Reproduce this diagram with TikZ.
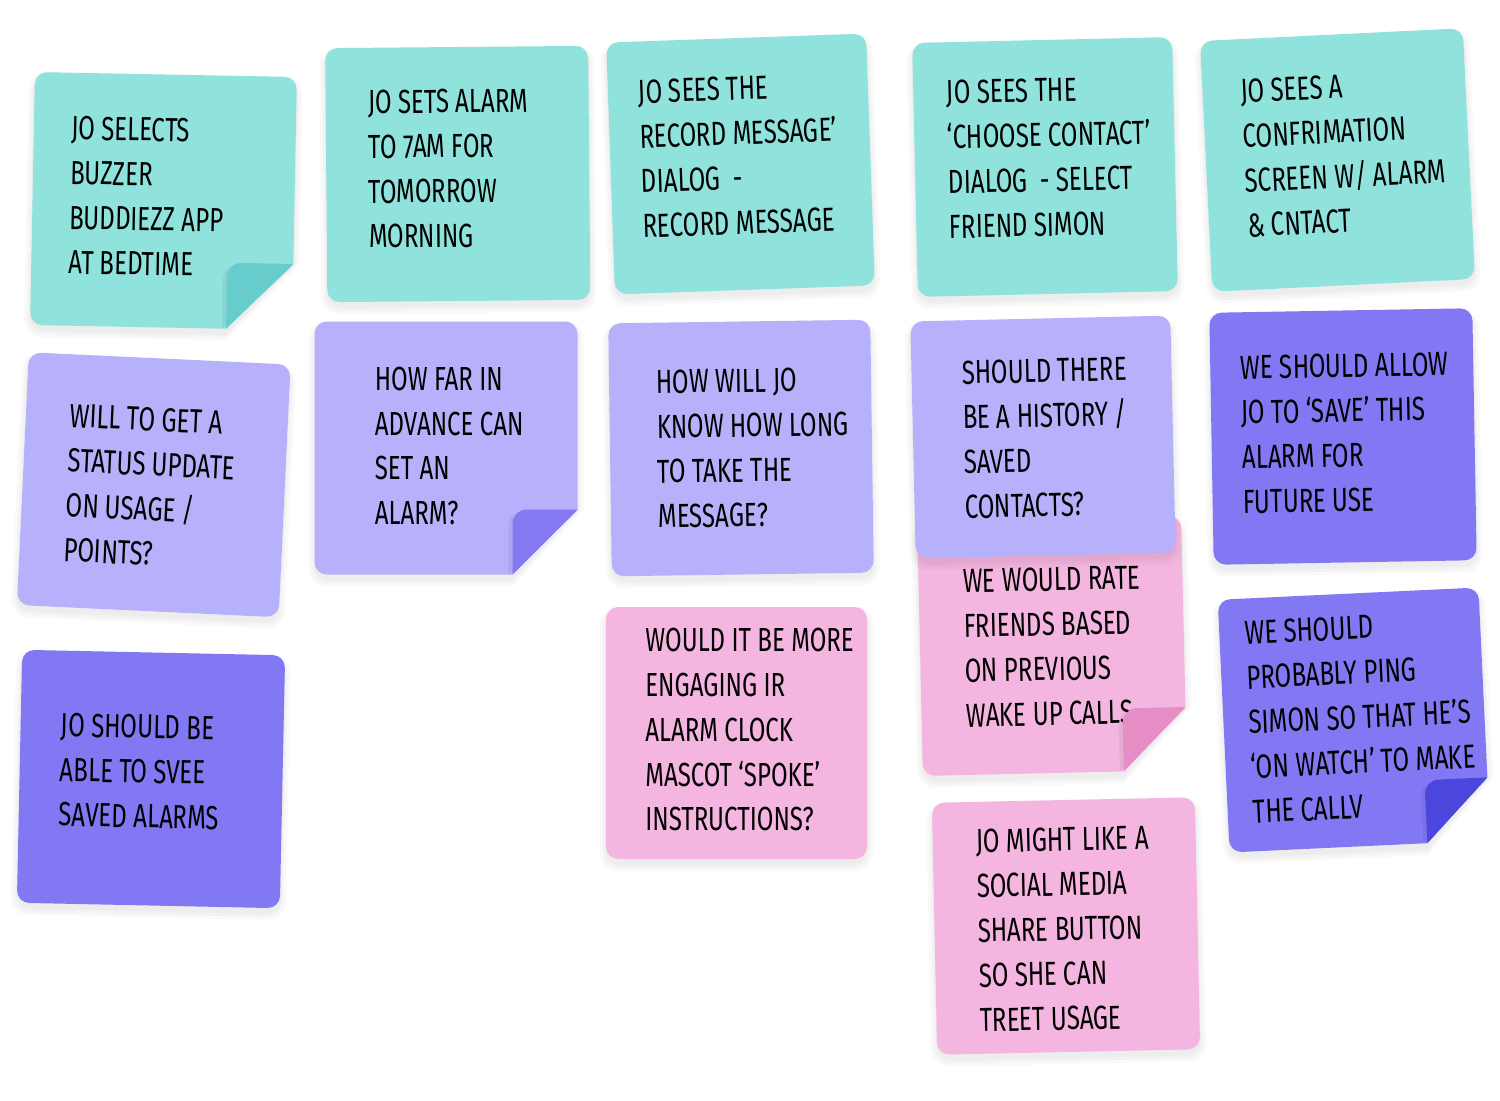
\documentclass[tikz,border=0pt]{standalone}
\usepackage{fontspec}
\setmainfont{Fira Sans}[FakeStretch=0.72]
\definecolor{tealnote}{HTML}{90E3DD}
\definecolor{tealfold}{HTML}{66CCCC}
\definecolor{lilacnote}{HTML}{B6B1FA}
\definecolor{lilacfold}{HTML}{8479F2}
\definecolor{violetnote}{HTML}{8378F3}
\definecolor{violetfold}{HTML}{4B47DD}
\definecolor{pinknote}{HTML}{F4B6E0}
\definecolor{pinkfold}{HTML}{E58DC4}
\tikzset{
  notetext/.style={font=\fontsize{19}{25.5}\selectfont, align=left, inner sep=0pt, anchor=north west, text=black},
  noteshadow/.style={fill=black, opacity=0.025},
}
% #1 name, #2 centre, #3 angle, #4 width, #5 height, #6 colour, #7 fold size (0 = none), #8 text offset, #9 text
\newcommand\stickynote[9]{%
  \begin{scope}[shift={#2},rotate=#3]
    \pgfmathsetmacro\hw{#4/2}%
    \pgfmathsetmacro\hh{#5/2}%
    \pgfmathsetmacro\fx{#4/2-#7}%
    \pgfmathsetmacro\fy{#5/2-#7}%
    \ifnum#7=0
      \fill[noteshadow, rounded corners=10pt] (-\hw-6,-\hh) rectangle (\hw+6,\hh+12);
      \fill[noteshadow, rounded corners=9pt] (-\hw-3,-\hh+2) rectangle (\hw+3,\hh+9);
      \fill[noteshadow, rounded corners=8pt] (-\hw-1,-\hh+3) rectangle (\hw+1,\hh+6);
      \fill[#6note, rounded corners=7pt] (-\hw,-\hh) rectangle (\hw,\hh);
      \node[notetext, rotate=#3] (#1) at ([shift={(#8)}]-\hw,-\hh) {#9};
    \else
      \fill[noteshadow, rounded corners=10pt] (\hw+6,\fy) -- (\hw+6,-\hh) -- (-\hw-6,-\hh) -- (-\hw-6,\hh+12) -- (\fx,\hh+12);
      \fill[noteshadow, rounded corners=9pt] (\hw+3,\fy) -- (\hw+3,-\hh+2) -- (-\hw-3,-\hh+2) -- (-\hw-3,\hh+9) -- (\fx,\hh+9);
      \fill[noteshadow, rounded corners=8pt] (\hw+1,\fy) -- (\hw+1,-\hh+3) -- (-\hw-1,-\hh+3) -- (-\hw-1,\hh+6) -- (\fx,\hh+6);
      \fill[#6note, rounded corners=7pt] (\hw,\fy) -- (\hw,-\hh) -- (-\hw,-\hh) -- (-\hw,\hh) -- (\fx,\hh);
      \node[notetext, rotate=#3] (#1) at ([shift={(#8)}]-\hw,-\hh) {#9};
      \fill[black, opacity=0.06, rounded corners=8pt] (\hw,\fy+2) -- (\fx-4,\fy+2) -- (\fx-4,\hh);
      \fill[#6fold, rounded corners=8pt] (\hw,\fy) -- (\fx,\fy) -- (\fx,\hh);
    \fi
  \end{scope}}
\begin{document}
\begin{tikzpicture}[x=0.02cm, y=-0.02cm]
\useasboundingbox (0,0) rectangle (1500,1100);
\fill[white] (0,0) rectangle (1500,1100);
% row 1
\stickynote{n1}{(163.5,201)}{-1.1}{262}{253}{teal}{66}{37,43}{JO SELECTS\\BUZZER\\BUDDIEZZ APP\\AT BEDTIME}
\stickynote{n2}{(457.75,174)}{0.5}{263}{254}{teal}{0}{42,42}{JO SETS ALARM\\TO 7AM FOR\\TOMORROW\\MORNING}
\stickynote{n3}{(740.5,164)}{2}{260}{252}{teal}{0}{30,38}{JO SEES THE\\RECORD MESSAGE’\\DIALOG \ -\\RECORD MESSAGE}
\stickynote{n4}{(1045,167)}{1.3}{260}{254}{teal}{0}{33,38}{JO SEES THE\\‘CHOOSE CONTACT’\\DIALOG \ - SELECT\\FRIEND SIMON}
\stickynote{n5}{(1337.5,160)}{2.8}{263}{251}{teal}{0}{38,40}{JO SEES A\\CONFRIMATION\\SCREEN W/ ALARM\\\& CNTACT}
% row 2
\stickynote{n6}{(153.75,484.75)}{-2.7}{262}{253}{lilac}{0}{44,49}{WILL TO GET A\\STATUS UPDATE\\ON USAGE /\\POINTS?}
\stickynote{n7}{(446,448)}{0}{263}{253}{lilac}{65}{60,45}{HOW FAR IN\\ADVANCE CAN\\SET AN\\ALARM?}
\stickynote{n8}{(741,448)}{0.8}{262}{253}{lilac}{0}{47,47}{HOW WILL JO\\KNOW HOW LONG\\TO TAKE THE\\MESSAGE?}
\stickynote{n10}{(1052,646)}{1.3}{264}{254}{pink}{63}{44,48}{WE WOULD RATE\\FRIENDS BASED\\ON PREVIOUS\\WAKE UP CALLS}
\stickynote{n9}{(1043,437)}{1.3}{260}{237}{lilac}{0}{50,40}{SHOULD THERE\\BE A HISTORY /\\SAVED\\CONTACTS?}
\stickynote{n11}{(1343,436.5)}{1}{263}{252}{violet}{0}{30,43}{WE SHOULD ALLOW\\JO TO ‘SAVE’ THIS\\ALARM FOR\\FUTURE USE}
% row 3
\stickynote{n12}{(151,779)}{-1.2}{263}{253}{violet}{0}{40,62}{JO SHOULD BE\\ABLE TO SVEE\\SAVED ALARMS}
\stickynote{n13}{(736.5,733)}{0}{261}{252}{pink}{0}{39,21}{WOULD IT BE MORE\\ENGAGING IR\\ALARM CLOCK\\MASCOT ‘SPOKE’\\INSTRUCTIONS?}
\stickynote{n14}{(1066,926)}{1.2}{263}{252}{pink}{0}{43,27}{JO MIGHT LIKE A\\SOCIAL MEDIA\\SHARE BUTTON\\SO SHE CAN\\TREET USAGE}
\stickynote{n15}{(1354,720)}{2.7}{261}{253}{violet}{63}{25,22}{WE SHOULD\\PROBABLY PING\\SIMON SO THAT HE’S\\‘ON WATCH’ TO MAKE\\THE CALLV}
\end{tikzpicture}
\end{document}
